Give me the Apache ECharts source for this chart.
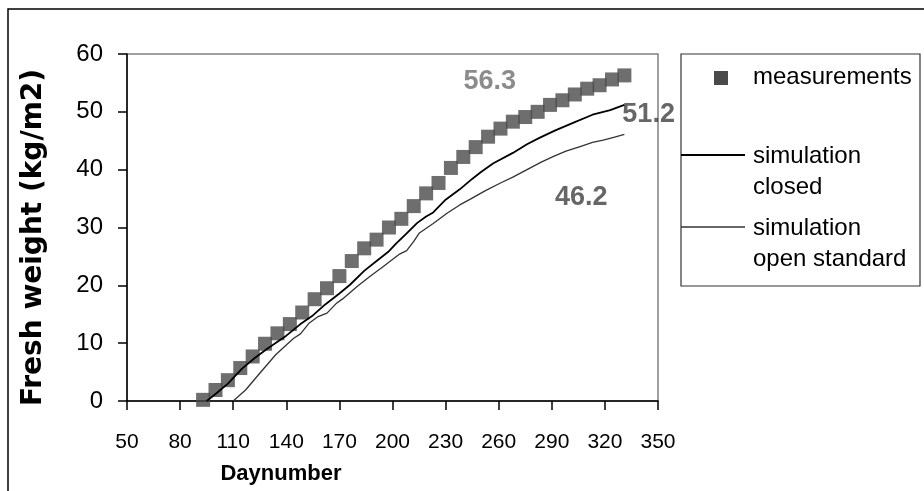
<!DOCTYPE html>
<html>
<head>
    <meta charset="utf-8">
    <title>Fresh weight</title>
    <script src="https://cdn.jsdelivr.net/npm/echarts@6/dist/echarts.min.js"></script>
</head>
<body style="margin:0">
<style>
    #chart { width: 924px; height: 491px; }
</style>
<div id="chart"></div>
<script type="text/javascript">
// measurements (weekly), [day, kg/m2]
var measureDays = [93, 100, 107, 114, 121, 128, 135, 142, 149, 156, 163, 170, 177, 184, 191, 198, 205, 212,
    219, 226, 233, 240, 247, 254, 261, 268, 275, 282, 289, 296, 303, 310, 317, 324, 331];
var measureVals = [0.2, 1.9, 3.6, 5.7, 7.7, 9.9, 11.7, 13.3, 15.3, 17.6, 19.5, 21.6, 24.2, 26.4, 27.9, 30.0, 31.5, 33.7,
    35.9, 37.7, 40.3, 42.2, 43.9, 45.7, 47.1, 48.3, 49.1, 50.0, 51.2, 52.0, 53.0, 54.0, 54.6, 55.6, 56.3];

// simulation closed
var closedDays = [95, 100, 107, 115, 122, 129, 140, 148, 155, 162, 170, 176, 184, 191, 198, 202, 208, 214, 219,
    223, 230, 238, 245, 250, 257, 268, 276, 283, 292, 302, 313, 323, 331];
var closedVals = [0, 1.2, 3.0, 5.6, 7.4, 9.0, 11.3, 13.3, 14.8, 16.7, 18.6, 20.1, 22.5, 24.2, 25.9, 27.2, 29.0, 30.8, 31.9,
    32.6, 34.8, 36.6, 38.4, 39.6, 41.1, 42.9, 44.4, 45.5, 46.8, 48.1, 49.5, 50.3, 51.2];

// simulation open standard
var openDays = [110, 117, 125, 134, 144, 148, 153, 158, 163, 168, 172, 180, 187, 195, 204, 208, 212, 215, 223,
    231, 238, 244, 252, 261, 268, 276, 284, 291, 298, 306, 313, 319, 325, 331];
var openVals = [0, 1.9, 4.8, 8.0, 10.8, 11.6, 13.5, 14.6, 15.2, 16.8, 17.7, 19.8, 21.5, 23.3, 25.4, 26.0, 27.6, 29.0, 30.7,
    32.5, 33.9, 34.9, 36.3, 37.7, 38.7, 40.0, 41.3, 42.3, 43.2, 44.0, 44.7, 45.1, 45.6, 46.1];

// end value labels
var noteTexts = ['56.3', '51.2', '46.2'];
var noteDays = [255, 344.7, 306.6];
var noteVals = [55.2, 49.5, 35.1];
var noteColors = ['#6e6e6e', '#404040', '#404040'];

var legendNames = ['measurements', 'simulation\nclosed', 'simulation\nopen standard'];

function pairs(xs, ys) {
    var out = [];
    for (var i = 0; i < xs.length; i++) out.push([xs[i], ys[i]]);
    return out;
}

var notes = [];
for (var i = 0; i < noteTexts.length; i++) {
    notes.push({
        value: [noteDays[i], noteVals[i], noteTexts[i]],
        label: { color: noteColors[i] }
    });
}

var chart = echarts.init(document.getElementById('chart'));

var font = 'Liberation Sans, Arial, sans-serif';

chart.setOption({
    animation: false,
    backgroundColor: '#fff',
    grid: {
        left: 127, right: 266, top: 54, bottom: 90,
        show: true, borderColor: '#808080', borderWidth: 1.5
    },
    xAxis: {
        type: 'value', min: 50, max: 350, interval: 30,
        name: 'Daynumber', nameLocation: 'middle', nameGap: 62,
        nameTextStyle: { fontFamily: font, fontWeight: 'bold', fontSize: 22, color: '#000', padding: [0, 223, 0, 0] },
        axisLine: { lineStyle: { color: '#000', width: 1.5 } },
        axisTick: { length: 9, lineStyle: { color: '#000', width: 1.5 } },
        axisLabel: { margin: 31, fontFamily: font, fontSize: 21, color: '#000' },
        splitLine: { show: false }
    },
    yAxis: {
        type: 'value', min: 0, max: 60, interval: 10,
        name: 'Fresh weight (kg/m2)', nameLocation: 'middle', nameGap: 79,
        nameTextStyle: { fontFamily: 'DejaVu Sans, sans-serif', fontWeight: 'bold', fontSize: 28, color: '#000', padding: [0, 20, 0, 0] },
        axisLine: { show: true, lineStyle: { color: '#000', width: 1.5 } },
        axisTick: { show: true, length: 9, lineStyle: { color: '#000', width: 1.5 } },
        axisLabel: { margin: 24, fontFamily: font, fontSize: 24, color: '#000' },
        splitLine: { show: false }
    },
    series: [
        {
            name: legendNames[0], type: 'scatter', symbol: 'rect', symbolSize: 14,
            itemStyle: { color: '#4a4a4a' },
            data: pairs(measureDays, measureVals)
        },
        {
            name: legendNames[1], type: 'line', symbol: 'none',
            lineStyle: { color: '#000', width: 1.8 },
            data: pairs(closedDays, closedVals)
        },
        {
            name: legendNames[2], type: 'line', symbol: 'none',
            lineStyle: { color: '#333', width: 1.3 },
            data: pairs(openDays, openVals)
        },
        {
            type: 'scatter', symbolSize: 0, silent: true,
            label: {
                show: true, position: 'inside', fontFamily: font, fontWeight: 'bold', fontSize: 27,
                formatter: function (p) { return p.value[2]; }
            },
            data: notes
        }
    ],
    graphic: [
        // outer frame, runs off the right and bottom edge
        { type: 'rect', shape: { x: 8, y: 9, width: 1000, height: 1000 }, style: { fill: null, stroke: '#000', lineWidth: 1.5 } },
        // legend box
        { type: 'rect', shape: { x: 681, y: 54, width: 239, height: 232 }, style: { fill: '#fff', stroke: '#333', lineWidth: 1.2 } },
        { type: 'rect', shape: { x: 714, y: 71, width: 14, height: 14 }, style: { fill: '#4a4a4a' } },
        { type: 'text', left: 753, top: 65, style: { text: legendNames[0], font: '24px ' + font, fill: '#000' } },
        { type: 'line', shape: { x1: 681, y1: 155, x2: 745, y2: 155 }, style: { stroke: '#000', lineWidth: 1.8 } },
        { type: 'text', left: 753, top: 141, style: { text: legendNames[1], font: '24px ' + font, fill: '#000', lineHeight: 31 } },
        { type: 'line', shape: { x1: 681, y1: 227, x2: 745, y2: 227 }, style: { stroke: '#333', lineWidth: 1.3 } },
        { type: 'text', left: 753, top: 213, style: { text: legendNames[2], font: '24px ' + font, fill: '#000', lineHeight: 31 } }
    ]
});
</script>
</body>
</html>
